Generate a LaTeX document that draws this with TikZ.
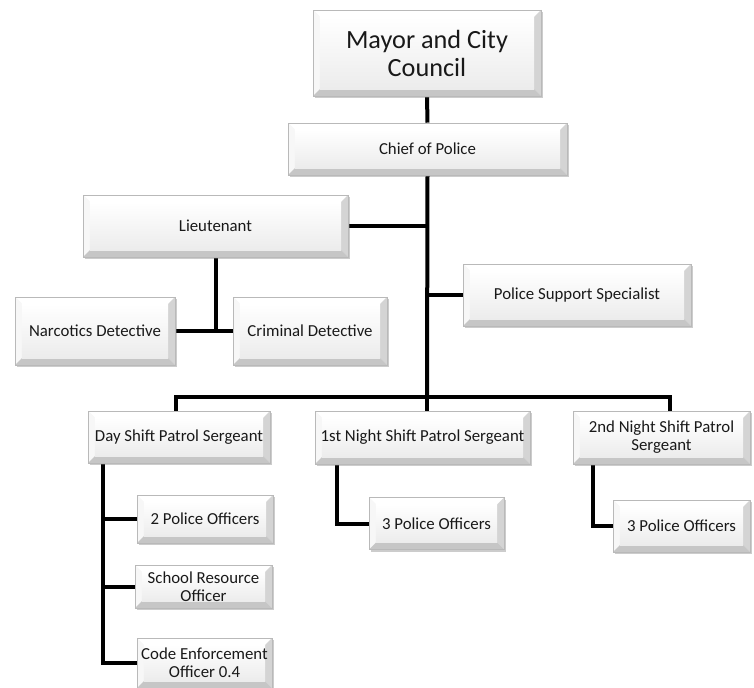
\documentclass[tikz,border=0pt]{standalone}
\usepackage{fontspec}
\setmainfont{Carlito}
\usetikzlibrary{shadows,backgrounds}

\tikzset{
  px/.style={x=0.75pt,y=-0.75pt},
  size/.style 2 args={minimum width=#1*0.75pt,minimum height=#2*0.75pt},
  bevelbox/.style={
    draw=gray!55, line width=0.4pt, fill=gray!10, inner sep=0pt,
    align=center, font=\fontsize{12.6}{13.6}\selectfont, text=black!90,
    drop shadow={opacity=0.4, shadow xshift=1.2pt, shadow yshift=-1.8pt},
    path picture={
      \path (path picture bounding box.north west) coordinate (bA)
            (path picture bounding box.north east) coordinate (bB)
            (path picture bounding box.south east) coordinate (bC)
            (path picture bounding box.south west) coordinate (bD)
            ([shift={(5.2pt,-5.2pt)}]bA) coordinate (iA)
            ([shift={(-5.2pt,-5.2pt)}]bB) coordinate (iB)
            ([shift={(-5.2pt,5.2pt)}]bC) coordinate (iC)
            ([shift={(5.2pt,5.2pt)}]bD) coordinate (iD);
      \fill[white] (bA) -- (bB) -- (iB) -- (iA) -- cycle;
      \fill[gray!6] (bA) -- (iA) -- (iD) -- (bD) -- cycle;
      \fill[gray!34] (bB) -- (bC) -- (iC) -- (iB) -- cycle;
      \fill[gray!45] (bD) -- (iD) -- (iC) -- (bC) -- cycle;
      \shade[top color=white, bottom color=gray!15] (iA) rectangle (iC);
    }},
  link/.style={line width=3pt, black},
}

\begin{document}
\begin{tikzpicture}[px]
\useasboundingbox (0,0) rectangle (754,688);

% boxes
\node[bevelbox, size={228}{86}, font=\fontsize{19.7}{21}\selectfont] (mayor) at (427,53) {Mayor and City\\Council};
\node[bevelbox, size={279}{52}] (chief) at (427.5,149) {Chief of Police};
\node[bevelbox, size={265}{62}] (lieut) at (215.5,226) {Lieutenant};
\node[bevelbox, size={160}{68}] (narc) at (95,331) {Narcotics Detective};
\node[bevelbox, size={154}{68}] (crim) at (310,331) {Criminal Detective};
\node[bevelbox, size={228}{62}] (support) at (577,295) {Police Support Specialist};
\node[bevelbox, size={182}{52}] (day) at (179,437) {Day Shift Patrol Sergeant};
\node[bevelbox, size={215}{53}] (night1) at (422.5,437.5) {1st Night Shift Patrol Sergeant};
\node[bevelbox, size={177}{53}] (night2) at (661.5,437.5) {2nd Night Shift Patrol\\Sergeant};
\node[bevelbox, size={136}{48}] (po2) at (205,519) {2 Police Officers};
\node[bevelbox, size={137}{43}] (sro) at (203.5,586.5) {School Resource\\Officer};
\node[bevelbox, size={135}{50}] (code) at (204.5,663) {Code Enforcement\\Officer 0.4};
\node[bevelbox, size={135}{52}] (po3a) at (436.5,523.5) {3 Police Officers};
\node[bevelbox, size={137}{52}] (po3b) at (681.5,526) {3 Police Officers};

% junction points
\coordinate (bus) at (427,397);
\coordinate (busL) at (176,397);
\coordinate (busR) at (670,397);

% connectors
\begin{scope}[on background layer]
\draw[link] (mayor.south) -- (chief.north);
\draw[link] (chief.south) -- (bus);
\draw[link] (lieut.east) -- (lieut.east -| bus);
\draw[link] (support.west) -- (support.west -| bus);
\draw[link] (busL |- day.north) -- (busL) -- (busR) -- (busR |- night2.north);
\draw[link] (bus) -- (bus |- night1.north);
\draw[link] (216,0 |- lieut.south) -- (216,0 |- narc.east);
\draw[link] (narc.east) -- (crim.west);
\draw[link] (103,0 |- day.south) |- (code.west);
\draw[link] (po2.west) -- (po2.west -| 103,0);
\draw[link] (sro.west) -- (sro.west -| 103,0);
\draw[link] (337,0 |- night1.south) |- (po3a.west);
\draw[link] (593,0 |- night2.south) |- (po3b.west);
\end{scope}
\end{tikzpicture}
\end{document}
